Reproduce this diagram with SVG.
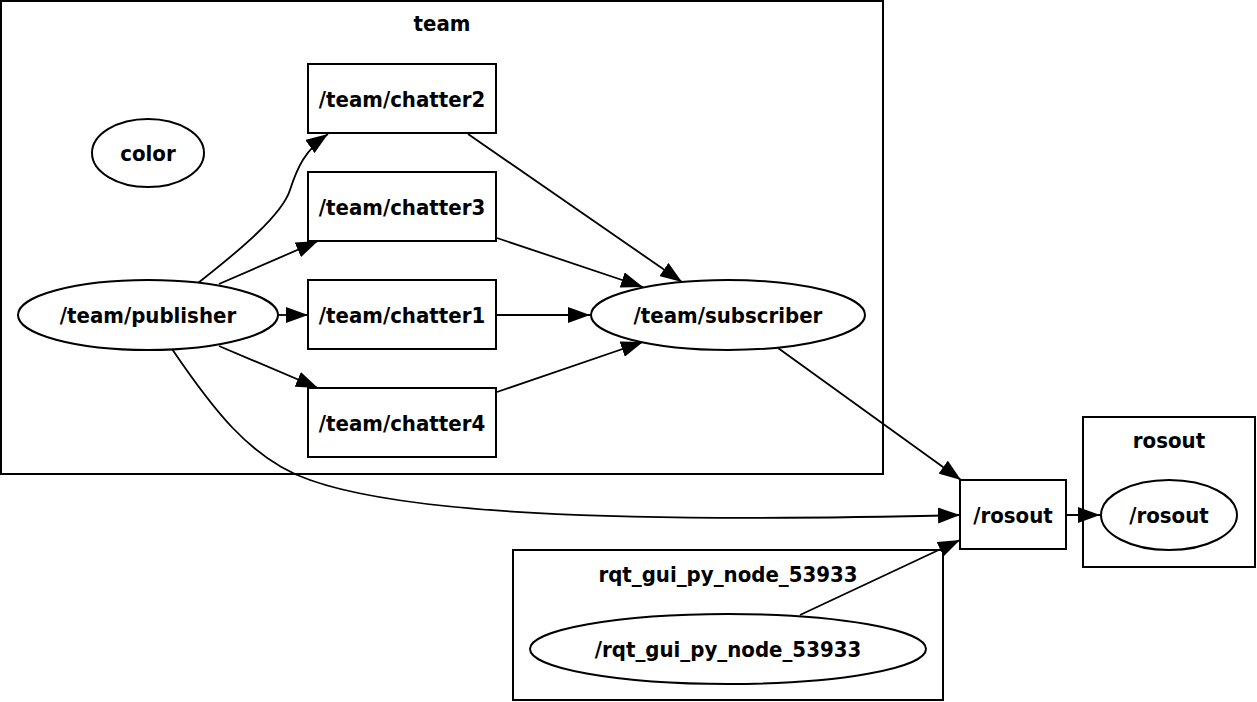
<svg xmlns="http://www.w3.org/2000/svg" width="1257" height="702" viewBox="0 0 1257 702">
<defs>
<marker id="arr" markerUnits="userSpaceOnUse" markerWidth="22" markerHeight="16" refX="22" refY="8" orient="auto" viewBox="0 0 22 16">
<path d="M0,0 L22,8 L0,16 z" fill="#000"/>
</marker>
<style>
text{font-family:"DejaVu Sans Condensed","DejaVu Sans",sans-serif;font-stretch:condensed;font-weight:bold;font-size:22px;text-anchor:middle;fill:#000}
.sh{fill:#fff;stroke:#000;stroke-width:2}
.cl{fill:none;stroke:#000;stroke-width:2}
.e{fill:none;stroke:#000;stroke-width:1.8;marker-end:url(#arr)}
</style>
</defs>
<rect width="1257" height="702" fill="#fff"/>
<g id="clusters">
<g id="cluster_team"><rect class="cl" x="1" y="1" width="882" height="473"/><text x="442" y="31">team</text></g>
<g id="cluster_rosout"><rect class="cl" x="1083" y="417" width="172" height="150"/><text x="1169" y="448">rosout</text></g>
<g id="cluster_rqt"><rect class="cl" x="513" y="550" width="430" height="150"/><text x="728" y="582">rqt_gui_py_node_53933</text></g>
</g>
<g id="connectors">
<path class="e" d="M198,283 C240,250 282,215 290,190 C297,168 305,150 328,134"/>
<path class="e" d="M219,284 L318,241"/>
<path class="e" d="M278,315 L308,315"/>
<path class="e" d="M219,346 L318,388"/>
<path class="e" d="M172,349 C210,405 250,460 310,480 C400,512 600,524 960,515"/>
<path class="e" d="M468,134 L682,282"/>
<path class="e" d="M497,238 L643,287"/>
<path class="e" d="M497,315 L590,315"/>
<path class="e" d="M497,392 L643,342"/>
<path class="e" d="M778,348 L961,480"/>
<path class="e" d="M1066,515 L1100,515"/>
<path class="e" d="M800,615 L960,540"/>
</g>
<g id="n_color"><ellipse class="sh" cx="148" cy="153" rx="56" ry="34"/><text x="148" y="161">color</text></g>
<g id="n_publisher"><ellipse class="sh" cx="148" cy="315" rx="130" ry="35"/><text x="148" y="323">/team/publisher</text></g>
<g id="n_chatter2"><rect class="sh" x="308" y="64" width="188" height="69"/><text x="402" y="107">/team/chatter2</text></g>
<g id="n_chatter3"><rect class="sh" x="308" y="172" width="188" height="69"/><text x="402" y="215">/team/chatter3</text></g>
<g id="n_chatter1"><rect class="sh" x="308" y="280" width="188" height="69"/><text x="402" y="323">/team/chatter1</text></g>
<g id="n_chatter4"><rect class="sh" x="308" y="388" width="188" height="69"/><text x="402" y="431">/team/chatter4</text></g>
<g id="n_subscriber"><ellipse class="sh" cx="728" cy="315" rx="137" ry="35"/><text x="728" y="323">/team/subscriber</text></g>
<g id="n_rosout_topic"><rect class="sh" x="960" y="480" width="106" height="69"/><text x="1013" y="523">/rosout</text></g>
<g id="n_rosout_node"><ellipse class="sh" cx="1169" cy="515" rx="68" ry="35"/><text x="1169" y="523">/rosout</text></g>
<g id="n_rqt"><ellipse class="sh" cx="728" cy="649" rx="198" ry="35"/><text x="728" y="657">/rqt_gui_py_node_53933</text></g>
</svg>
